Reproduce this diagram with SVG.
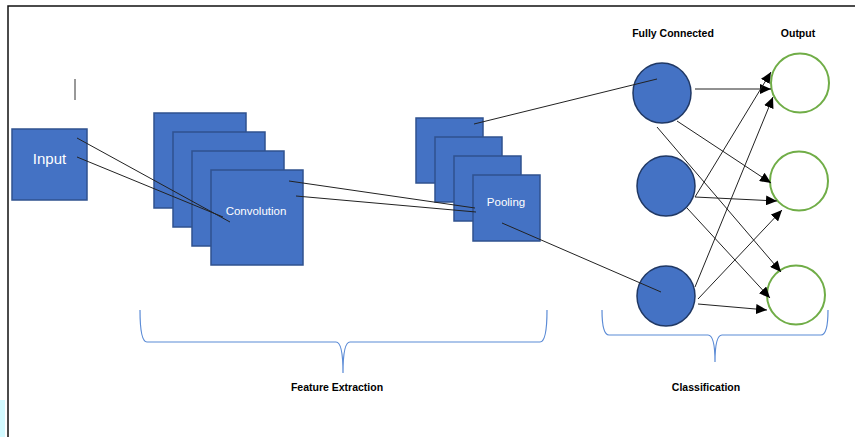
<svg xmlns="http://www.w3.org/2000/svg" width="855" height="437" viewBox="0 0 855 437">
<style>
.box{fill:#4472C4;stroke:#2F528F;stroke-width:1.5}
.fc{fill:#4472C4;stroke:#203864;stroke-width:1.5}
.out{fill:#fff;stroke:#70AD47;stroke-width:2}
.ln{stroke:#222;stroke-width:1;fill:none}
.ar{stroke:#222;stroke-width:1;fill:none;marker-end:url(#ah)}
.brace{stroke:#5B8BD6;stroke-width:1.2;fill:none}
.wt{fill:#fff;font-family:"Liberation Sans",Arial,sans-serif;text-anchor:middle}
.lbl{fill:#000;font-family:"Liberation Sans",Arial,sans-serif;font-weight:bold;font-size:10.5px;text-anchor:middle}
</style>
<defs>
<marker id="ah" markerUnits="userSpaceOnUse" markerWidth="12" markerHeight="10" refX="11" refY="5" orient="auto">
<path d="M0,0 L11,5 L0,10 Z" fill="#000"/>
</marker>
</defs>
<rect x="0" y="0" width="855" height="437" fill="#fff"/>
<rect x="0" y="400" width="5" height="37" fill="#D2FAFF"/>
<path d="M8,437 L8,6 L855,6" stroke="#111" stroke-width="1.5" fill="none"/>
<line x1="75" y1="79" x2="75" y2="100" stroke="#333" stroke-width="1"/>

<g id="input">
<rect class="box" x="12" y="129" width="75" height="71"/>
<text class="wt" x="49.5" y="164" font-size="15">Input</text>
</g>
<g id="convolution">
<rect class="box" x="154" y="113" width="92" height="95"/>
<rect class="box" x="173" y="132" width="92" height="95"/>
<rect class="box" x="192" y="151" width="92" height="95"/>
<rect class="box" x="211" y="170" width="92" height="95"/>
<text class="wt" x="256" y="215" font-size="11.5">Convolution</text>
</g>
<g id="pooling">
<rect class="box" x="416" y="118" width="67" height="65"/>
<rect class="box" x="435" y="137" width="67" height="65"/>
<rect class="box" x="454" y="156" width="67" height="65"/>
<rect class="box" x="473" y="175" width="67" height="66"/>
<text class="wt" x="506" y="206" font-size="11.5">Pooling</text>
</g>
<g id="fully-connected">
<ellipse class="fc" cx="662" cy="93" rx="29" ry="30"/>
<ellipse class="fc" cx="666" cy="186" rx="29" ry="30"/>
<ellipse class="fc" cx="666" cy="296" rx="29" ry="30"/>
<text class="lbl" x="673" y="37">Fully Connected</text>
</g>
<g id="output">
<ellipse class="out" cx="800" cy="83" rx="29" ry="29.5"/>
<ellipse class="out" cx="799" cy="181" rx="29" ry="29.5"/>
<ellipse class="out" cx="796" cy="295" rx="29" ry="29.5"/>
<text class="lbl" x="798" y="37">Output</text>
</g>

<g id="connectors">
<line class="ln" x1="77" y1="138" x2="230" y2="222"/>
<line class="ln" x1="77" y1="157" x2="223" y2="217"/>
<line class="ln" x1="289" y1="181" x2="475" y2="208"/>
<line class="ln" x1="296" y1="196" x2="476" y2="212"/>
<line class="ln" x1="474" y1="124" x2="657" y2="79"/>
<line class="ln" x1="502" y1="223" x2="661" y2="292"/>
<line class="ar" x1="695" y1="89" x2="771" y2="89"/>
<line class="ar" x1="677" y1="121" x2="771" y2="183"/>
<line class="ar" x1="657" y1="127" x2="781" y2="272"/>
<line class="ar" x1="695" y1="197" x2="771" y2="72"/>
<line class="ar" x1="695" y1="197" x2="777" y2="201"/>
<line class="ar" x1="687" y1="208" x2="770" y2="298"/>
<line class="ar" x1="695" y1="287" x2="773" y2="97"/>
<line class="ar" x1="698" y1="299" x2="782" y2="210"/>
<line class="ar" x1="698" y1="304" x2="767" y2="310"/>
</g>

<g id="feature-extraction">
<path class="brace" d="M140,310 Q140,342 147,342 L336,342 Q343,342 343,373 Q343,342 350,342 L540,342 Q547,342 547,310"/>
<text class="lbl" x="337" y="391">Feature Extraction</text>
</g>
<g id="classification">
<path class="brace" d="M602,310 Q602,335 609,335 L708,335 Q715,335 715,362 Q715,335 722,335 L821,335 Q828,335 828,310"/>
<text class="lbl" x="706" y="391">Classification</text>
</g>
</svg>
